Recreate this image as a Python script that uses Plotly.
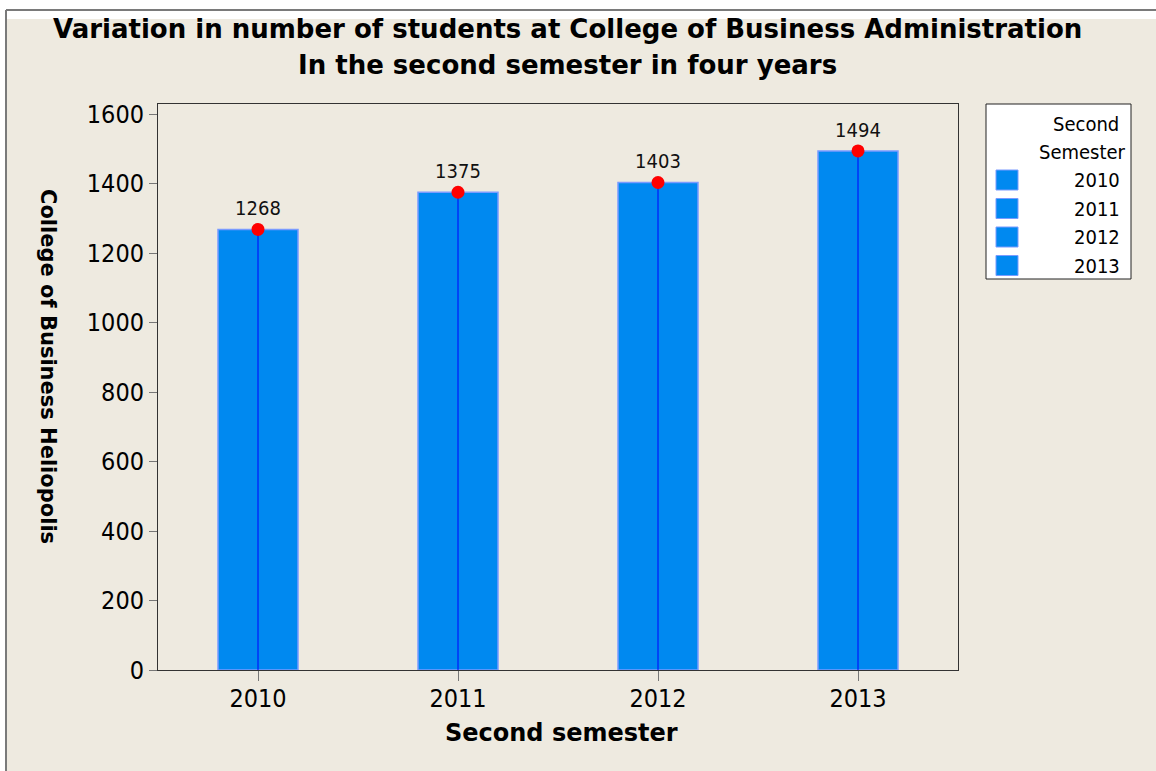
import plotly.graph_objects as go

# Students enrolled in the second semester, by year
years = ["2010", "2011", "2012", "2013"]
students = [1268, 1375, 1403, 1494]

title_lines = [
    "Variation in number of students at College of Business Administration",
    "In the second semester in four years",
]
x_title = "Second semester"
y_title = "College of Business Heliopolis"
legend_title = ["Second", "Semester"]
y_ticks = [0, 200, 400, 600, 800, 1000, 1200, 1400, 1600]

W, H = 1156, 771
PL, PR, PT, PB = 158, 958, 104, 670  # plot area in pixels

BEIGE = "#EEEAE0"
BAR = "#0089F0"
BAR_EDGE = "#7A9BFF"
FONT = "DejaVu Sans Condensed"
BOLD_FONT = "DejaVu Sans"


def px(x):
    return (x - PL) / (PR - PL)


def py(y):
    return (PB - y) / (PB - PT)


fig = go.Figure()

fig.add_trace(go.Bar(
    x=years, y=students, width=0.4,
    marker=dict(color=BAR, line=dict(color=BAR_EDGE, width=1.5)),
    showlegend=False, hoverinfo="skip",
))

# Red point at each bar top with a thin blue drop line and value label
fig.add_trace(go.Scatter(
    x=years, y=students, mode="markers+text",
    text=[str(v) for v in students], textposition="top center",
    textfont=dict(family=FONT, size=20, color="#111111"),
    marker=dict(color="#FF0000", size=13),
    error_y=dict(type="data", symmetric=False, array=[0] * len(students),
                 arrayminus=students, width=0, color="#0000FF", thickness=1),
    showlegend=False, cliponaxis=False,
))

shapes = [
    # page frame: white band on top, beige body, thin gray outline
    dict(type="rect", xref="paper", yref="paper", x0=px(7), x1=px(W + 5),
         y0=py(H + 5), y1=py(19), fillcolor=BEIGE, line=dict(width=0), layer="below"),
    dict(type="line", xref="paper", yref="paper", x0=px(6), x1=px(W + 5),
         y0=py(10), y1=py(10), line=dict(color="#7a7a7a", width=2)),
    dict(type="line", xref="paper", yref="paper", x0=px(6), x1=px(6),
         y0=py(10), y1=py(H + 5), line=dict(color="#7a7a7a", width=2)),
    # legend box
    dict(type="rect", xref="paper", yref="paper", x0=px(986), x1=px(1131),
         y0=py(279), y1=py(104), fillcolor="white", line=dict(color="#222222", width=1)),
]

annotations = [
    dict(text=f"<b>{title_lines[0]}</b>", x=px(567), y=py(29), xref="paper", yref="paper",
         showarrow=False, xanchor="center", yanchor="middle",
         font=dict(family=BOLD_FONT, size=26, color="black")),
    dict(text=f"<b>{title_lines[1]}</b>", x=px(567), y=py(65), xref="paper", yref="paper",
         showarrow=False, xanchor="center", yanchor="middle",
         font=dict(family=BOLD_FONT, size=26, color="black")),
    dict(text=f"<b>{x_title}</b>", x=px(561), y=py(733), xref="paper", yref="paper",
         showarrow=False, xanchor="center", yanchor="middle",
         font=dict(family=BOLD_FONT, size=24, color="black")),
    dict(text=f"<b>{y_title}</b>", x=px(48), y=py(366), xref="paper", yref="paper",
         showarrow=False, xanchor="center", yanchor="middle", textangle=90,
         font=dict(family=BOLD_FONT, size=21, color="black")),
    dict(text=legend_title[0], x=px(1121), y=py(124), xref="paper", yref="paper",
         showarrow=False, xanchor="right", yanchor="middle",
         font=dict(family=FONT, size=20, color="black")),
    dict(text=legend_title[1], x=px(1128), y=py(152), xref="paper", yref="paper",
         showarrow=False, xanchor="right", yanchor="middle",
         font=dict(family=FONT, size=20, color="black")),
]

# Legend entries, one per year
for i, yr in enumerate(years):
    cy = 180 + 28.5 * i
    shapes.append(dict(type="rect", xref="paper", yref="paper", x0=px(996), x1=px(1018),
                       y0=py(cy + 10), y1=py(cy - 10), fillcolor=BAR,
                       line=dict(color=BAR_EDGE, width=1)))
    annotations.append(dict(text=yr, x=px(1122), y=py(cy), xref="paper", yref="paper",
                            showarrow=False, xanchor="right", yanchor="middle",
                            font=dict(family=FONT, size=20, color="black")))

fig.update_layout(
    width=W, height=H, autosize=False,
    margin=dict(l=PL, r=W - PR, t=PT, b=H - PB, pad=0),
    paper_bgcolor="white", plot_bgcolor="white",
    barmode="overlay", showlegend=False,
    shapes=shapes, annotations=annotations,
    font=dict(family=FONT, color="black"),
)

fig.update_xaxes(
    type="category", range=[-0.5, 3.5],
    showline=True, mirror=True, linecolor="#333333", linewidth=1,
    ticks="outside", ticklen=10, tickcolor="#777777", ticklabelstandoff=-4,
    tickfont=dict(family=FONT, size=25, color="black"),
    showgrid=False, zeroline=False,
)
fig.update_yaxes(
    range=[0, 1629], tickvals=y_ticks,
    showline=True, mirror=True, linecolor="#333333", linewidth=1,
    ticks="outside", ticklen=8, tickcolor="#777777",
    tickfont=dict(family=FONT, size=25, color="black"),
    showgrid=False, zeroline=False,
)

fig.write_html("out.html")
